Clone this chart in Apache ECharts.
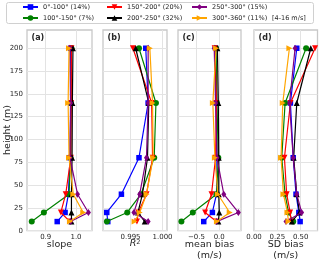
<!DOCTYPE html>
<html><head><meta charset="utf-8">
<script src="https://cdn.jsdelivr.net/npm/echarts@6/dist/echarts.min.js"></script>
<style>html,body{margin:0;padding:0;background:#fff}#c{width:320px;height:262px}</style>
</head><body><div id="c"></div>
<script>
const heights = [10, 20, 40, 80, 140, 200];
const names = ['0°-100° (14%)', '100°-150° (7%)', '150°-200° (20%)', '200°-250° (32%)', '250°-300° (15%)', '300°-360° (11%)'];
const colors = ['#0000ff', '#008000', '#ff0000', '#000000', '#800080', '#ffa500'];
// order: blue, green, red, black, purple, orange
const slope = [
  [0.938, 0.964, 0.975, 0.980, 0.983, 0.982],
  [0.854, 0.894, 0.977, 0.982, 0.983, 0.985],
  [0.980, 0.950, 0.966, 0.983, 0.984, 0.985],
  [0.985, 0.985, 0.985, 0.987, 0.988, 0.990],
  [0.982, 1.041, 1.005, 0.980, 0.982, 0.980],
  [0.980, 1.024, 0.991, 0.977, 0.974, 0.977]
];
const r2 = [
  [0.99144, 0.99128, 0.99357, 0.99632, 0.99775, 0.99738],
  [0.99130, 0.99448, 0.99663, 0.99870, 0.99897, 0.99632],
  [0.99600, 0.99620, 0.99750, 0.99844, 0.99830, 0.99537],
  [0.99722, 0.99616, 0.99686, 0.99765, 0.99785, 0.99580],
  [0.99775, 0.99552, 0.99643, 0.99749, 0.99775, 0.99775],
  [0.99563, 0.99643, 0.99749, 0.99854, 0.99844, 0.99802]
];
const meanBias = [
  [-0.34, -0.15, -0.06, -0.05, -0.07, -0.08],
  [-0.83, -0.58, -0.06, -0.02, -0.05, -0.07],
  [-0.06, -0.31, -0.17, -0.08, -0.06, -0.10],
  [-0.02, 0.00, -0.01, -0.01, -0.02, -0.04],
  [-0.06, 0.42, 0.10, -0.05, -0.08, -0.11],
  [-0.05, 0.23, -0.03, -0.095, -0.14, -0.07]
];
const sdBias = [
  [0.494, 0.48, 0.45, 0.42, 0.39, 0.458],
  [0.42, 0.37, 0.333, 0.297, 0.333, 0.558],
  [0.40, 0.387, 0.35, 0.326, 0.39, 0.654],
  [0.405, 0.487, 0.458, 0.425, 0.458, 0.608],
  [0.343, 0.51, 0.458, 0.42, 0.38, 0.44],
  [0.369, 0.358, 0.315, 0.29, 0.308, 0.379]
];
const yTicks = [0, 25, 50, 75, 100, 125, 150, 175, 200];
const xTicksA = [0.9, 1.0];
const xTicksB = [0.995, 1.000];
const xTicksC = [-0.5, 0.0];
const xTicksD = [0.00, 0.25, 0.50];
const panelLabels = ['(a)', '(b)', '(c)', '(d)'];

const symbols = ['rect', 'circle', 'path://M0,0 L10,0 L5,10 Z', 'triangle', 'path://M3,0 L6,5 L3,10 L0,5 Z', 'path://M0,0 L10,5 L0,10 Z'];
const symSizes = [5.5, 6, 6, 6, [5, 7], 6];

const panels = [
  {data: slope, left: 27, width: 65, min: 0.8383, max: 1.0528, ticks: xTicksA, fmt: v => v.toFixed(1)},
  {data: r2, left: 103, width: 64, min: 0.99069, max: 1.0007, ticks: xTicksB, fmt: v => v.toFixed(3)},
  {data: meanBias, left: 178, width: 63, min: -0.905, max: 0.478, ticks: xTicksC, fmt: v => v === 0 ? '0.0' : '\u2212' + Math.abs(v).toFixed(1)},
  {data: sdBias, left: 254, width: 63.5, min: 0, max: 0.68, ticks: xTicksD, fmt: v => v.toFixed(2)}
];
const FONT = 'DejaVu Sans';
const grids = [], xAxes = [], yAxes = [], series = [];
panels.forEach((p, i) => {
  grids.push({left: p.left, width: p.width, top: 30, height: 200.7, show: true, borderColor: '#c8c8c8', borderWidth: 1.3, backgroundColor: '#fff'});
  xAxes.push({type: 'value', gridIndex: i, min: p.min, max: p.max,
    axisLine: {show: false}, axisTick: {show: false, customValues: p.ticks},
    splitLine: {show: true, lineStyle: {color: '#e3e3e3', width: 1}},
    axisLabel: {customValues: p.ticks, formatter: p.fmt, fontFamily: FONT, fontSize: 7, color: '#262626', margin: 3}});
  yAxes.push({type: 'value', gridIndex: i, min: 0, max: 220,
    axisLine: {show: false}, axisTick: {show: false, customValues: yTicks},
    splitLine: {show: true, lineStyle: {color: '#e3e3e3', width: 1}},
    axisLabel: {show: i === 0, customValues: yTicks, fontFamily: FONT, fontSize: 7, color: '#262626', margin: 4}});
  p.data.forEach((vals, s) => {
    series.push({type: 'line', name: names[s], xAxisIndex: i, yAxisIndex: i,
      data: vals.map((v, k) => [v, heights[k]]),
      symbol: symbols[s], symbolSize: symSizes[s], showSymbol: true,
      itemStyle: {color: colors[s], opacity: 1}, lineStyle: {color: colors[s], width: 1.2},
      z: 2 + s, animation: false, silent: true});
  });
});
const legendBase = {orient: 'vertical', padding: 0, itemGap: 4, itemWidth: 15, itemHeight: 7,
  textStyle: {fontFamily: FONT, fontSize: 6.5, color: '#262626', padding: [0, 0, 0, 0]}, selectedMode: false, top: 3.5};
const legends = [
  Object.assign({}, legendBase, {left: 22, data: [names[0], names[1]]}),
  Object.assign({}, legendBase, {left: 106, data: [names[2], names[3]]}),
  Object.assign({}, legendBase, {left: 191, data: [names[4], names[5]]})
];
const graphics = [
  {type: 'rect', shape: {x: 6.5, y: 2.5, width: 307, height: 21, r: 2}, style: {fill: '#fff', stroke: '#d0d0d0', lineWidth: 1}, z: -10},
  {type: 'text', x: 272, y: 18, style: {text: '[4-16 m/s]', font: '6.5px "DejaVu Sans"', fill: '#262626', verticalAlign: 'middle'}},
  {type: 'text', x: 8, y: 130, rotation: Math.PI / 2, style: {text: 'height (m)', font: '9.5px "DejaVu Sans"', fill: '#262626', align: 'center', verticalAlign: 'middle'}},
  {type: 'text', x: 59.5, y: 245, style: {text: 'slope', font: '9.5px "DejaVu Sans"', fill: '#262626', align: 'center', verticalAlign: 'middle'}},
  {type: 'text', x: 135, y: 244, style: {text: '{i|R}{s|2}', align: 'center', verticalAlign: 'middle',
    rich: {i: {fontFamily: FONT, fontSize: 9.5, fontStyle: 'italic', fill: '#262626'}, s: {fontFamily: FONT, fontSize: 6.5, fill: '#262626', verticalAlign: 'top', padding: [0, 0, 4, 0]}}}},
  {type: 'text', x: 209.5, y: 245, style: {text: 'mean bias', font: '9.5px "DejaVu Sans"', fill: '#262626', align: 'center', verticalAlign: 'middle'}},
  {type: 'text', x: 209.5, y: 256, style: {text: '(m/s)', font: '9.5px "DejaVu Sans"', fill: '#262626', align: 'center', verticalAlign: 'middle'}},
  {type: 'text', x: 285.7, y: 245, style: {text: 'SD bias', font: '9.5px "DejaVu Sans"', fill: '#262626', align: 'center', verticalAlign: 'middle'}},
  {type: 'text', x: 285.7, y: 256, style: {text: '(m/s)', font: '9.5px "DejaVu Sans"', fill: '#262626', align: 'center', verticalAlign: 'middle'}}
];
panels.forEach((p, i) => {
  graphics.push({type: 'text', x: p.left + 4.5, y: 38, style: {text: panelLabels[i], font: 'bold 8px "DejaVu Sans"', fill: '#262626', verticalAlign: 'middle'}, z: 100});
});
const chart = echarts.init(document.getElementById('c'), null, {renderer: 'canvas'});
chart.setOption({animation: false, grid: grids, xAxis: xAxes, yAxis: yAxes, series: series, legend: legends, graphic: graphics});
</script></body></html>
